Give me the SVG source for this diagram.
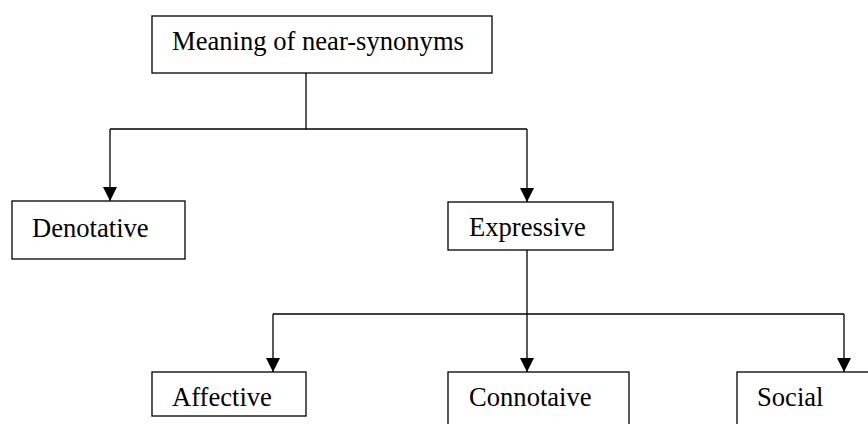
<svg xmlns="http://www.w3.org/2000/svg" width="868" height="424" viewBox="0 0 868 424">
<defs>
<style>
.box{fill:#fff;stroke:#000;stroke-width:1.3}
.t{font-family:"Liberation Serif","Times New Roman",serif;font-size:26.6px;fill:#000}
.c{fill:none;stroke:#000;stroke-width:1.3}
</style>
<marker id="ah" viewBox="0 0 14 14" refX="14" refY="7" markerWidth="14" markerHeight="14" markerUnits="userSpaceOnUse" orient="auto">
<path d="M0,0 L14,7 L0,14 Z" fill="#000"/>
</marker>
</defs>
<rect width="868" height="424" fill="#fff"/>
<g id="connectors">
<path class="c" d="M306,73 V129"/>
<path class="c" d="M110,129 H527"/>
<path class="c" d="M110,129 V201" marker-end="url(#ah)"/>
<path class="c" d="M527,129 V202" marker-end="url(#ah)"/>
<path class="c" d="M527,250 V314"/>
<path class="c" d="M273,314 H844"/>
<path class="c" d="M273,314 V372" marker-end="url(#ah)"/>
<path class="c" d="M527,314 V372" marker-end="url(#ah)"/>
<path class="c" d="M844,314 V372" marker-end="url(#ah)"/>
</g>
<g id="meaning">
<rect class="box" x="152" y="16" width="340" height="57"/>
<text class="t" x="172" y="50">Meaning of near-synonyms</text>
</g>
<g id="denotative">
<rect class="box" x="12" y="201" width="173" height="58"/>
<text class="t" x="32" y="237">Denotative</text>
</g>
<g id="expressive">
<rect class="box" x="448" y="202" width="165" height="48"/>
<text class="t" x="469" y="236">Expressive</text>
</g>
<g id="affective">
<rect class="box" x="152" y="372" width="154" height="44"/>
<text class="t" x="172" y="406">Affective</text>
</g>
<g id="connotaive">
<rect class="box" x="448" y="372" width="181" height="60"/>
<text class="t" x="469" y="406">Connotaive</text>
</g>
<g id="social">
<rect class="box" x="737" y="372" width="140" height="60"/>
<text class="t" x="757" y="406">Social</text>
</g>
</svg>
